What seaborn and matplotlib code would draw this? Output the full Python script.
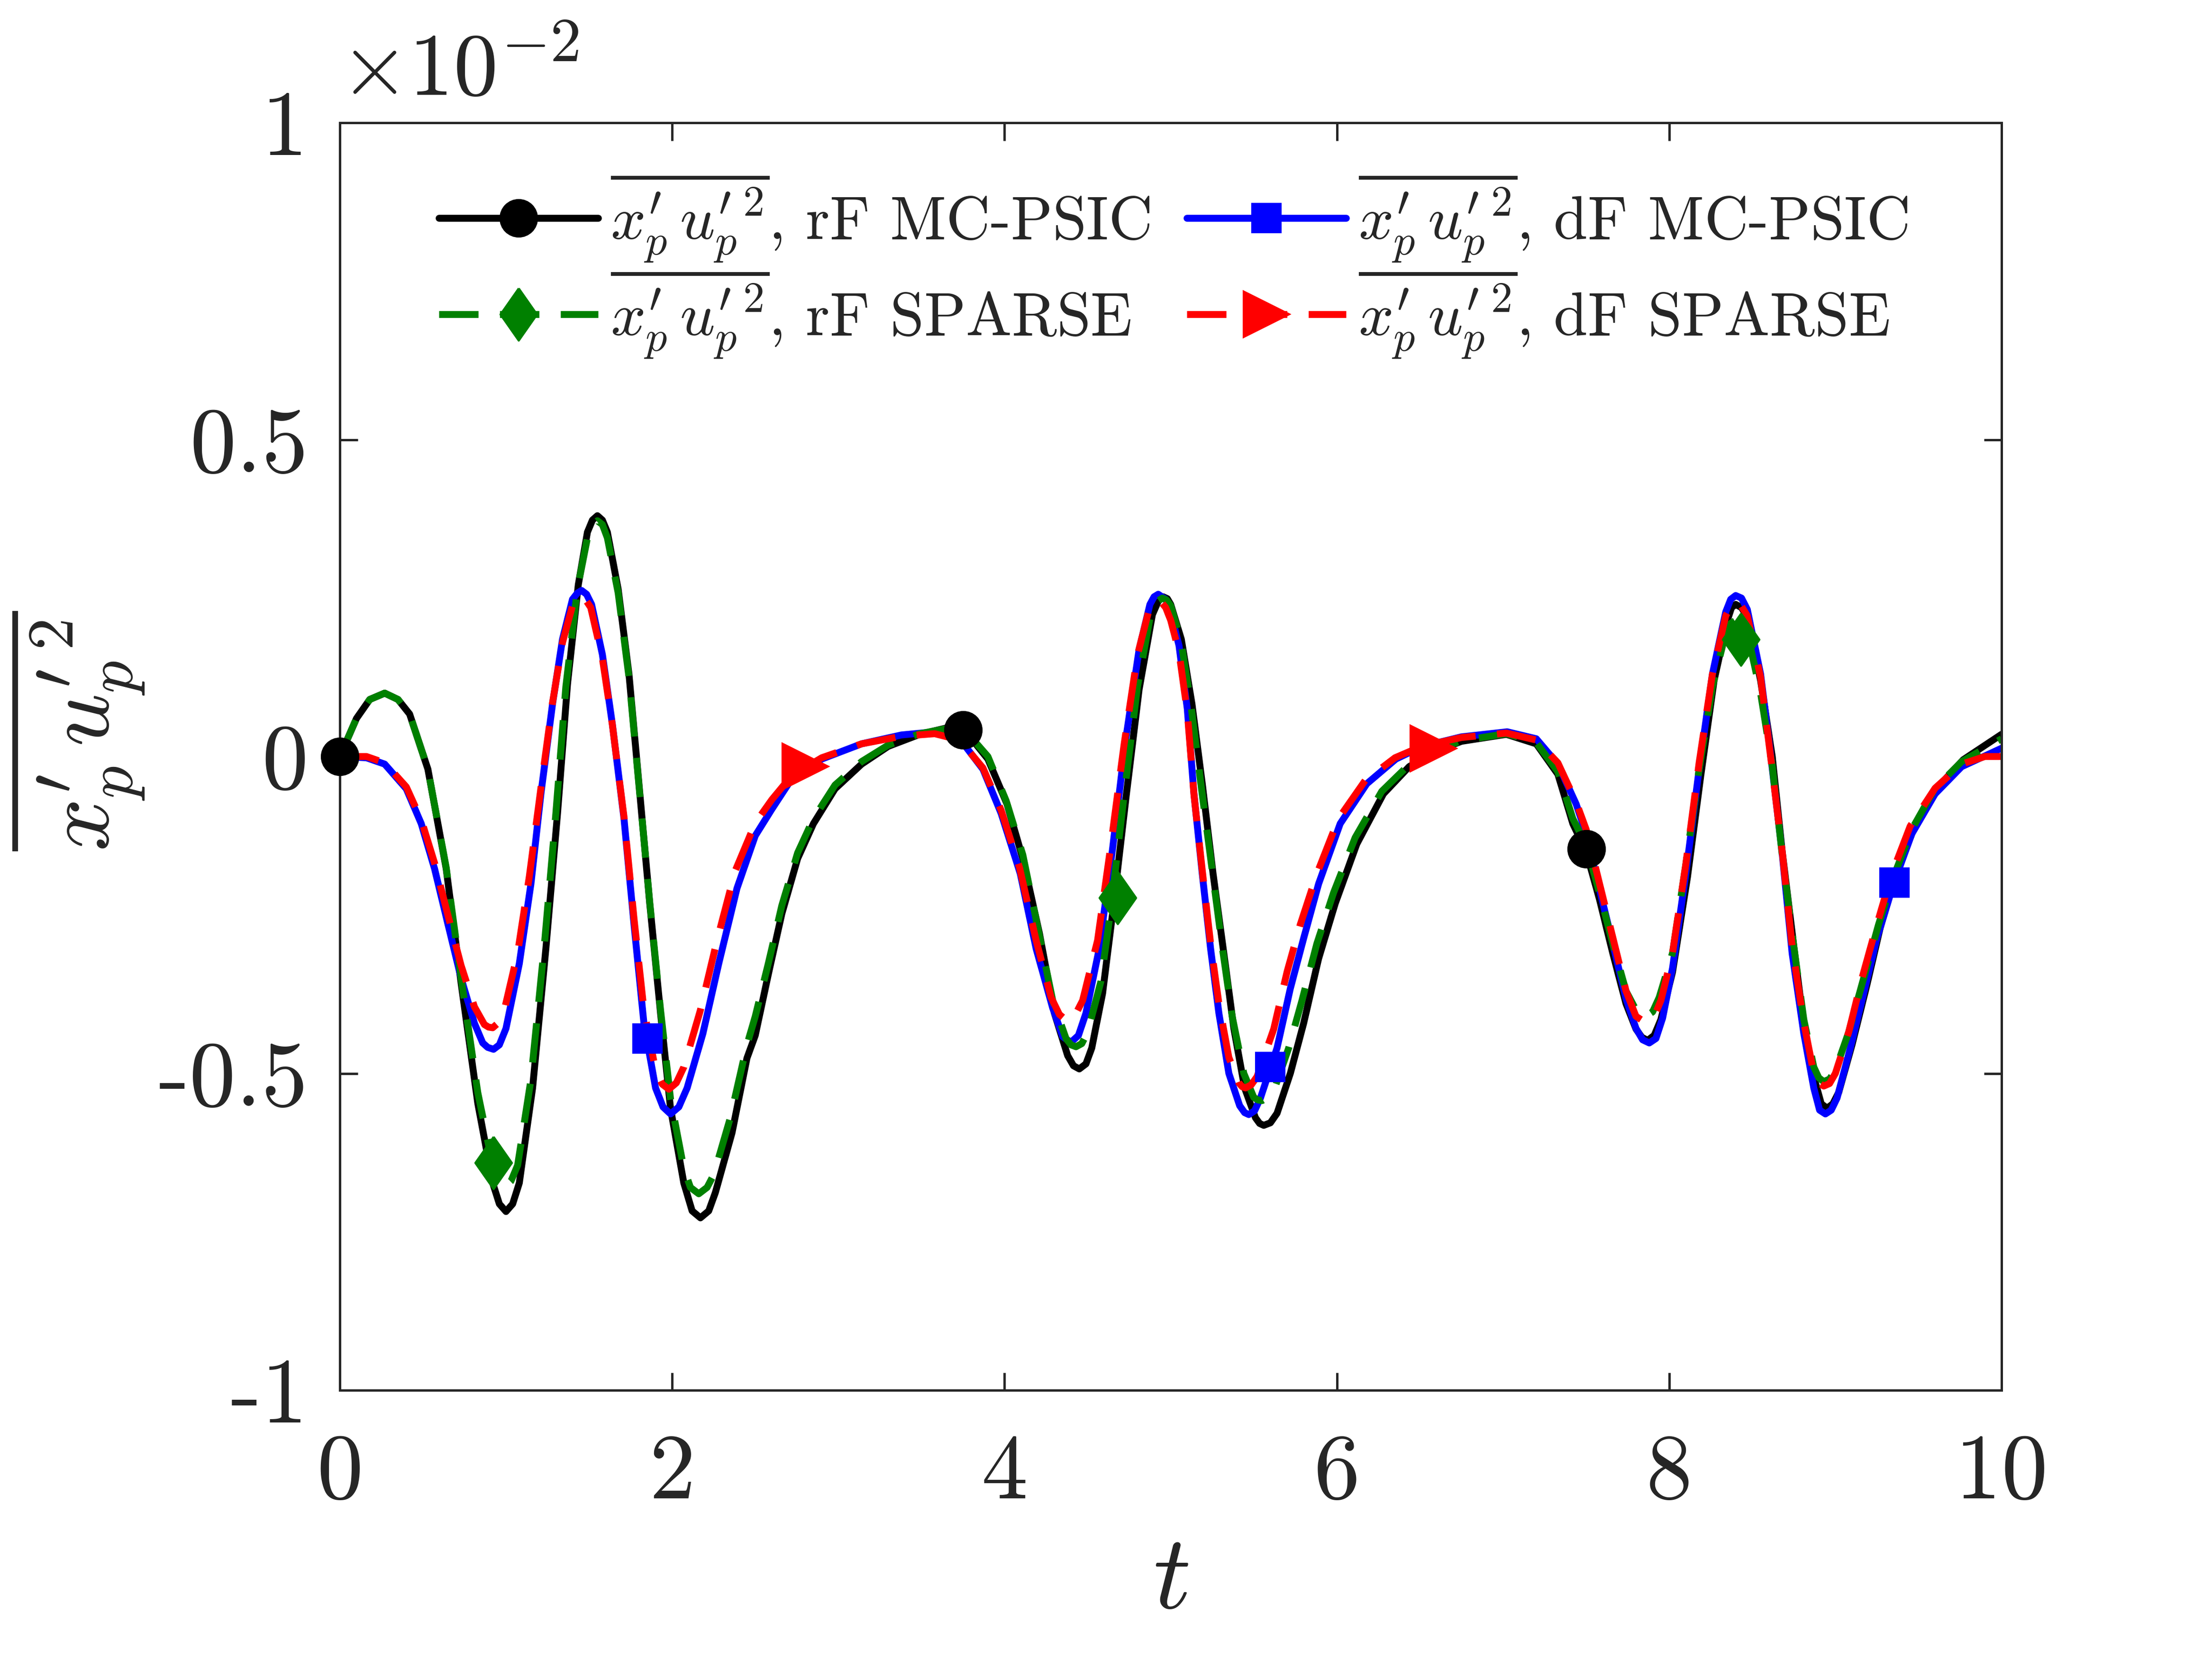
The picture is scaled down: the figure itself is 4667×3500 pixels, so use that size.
import numpy as np
import pandas as pd
import matplotlib
matplotlib.use("Agg")
import matplotlib.pyplot as plt
from matplotlib.lines import Line2D
import seaborn as sns

# curve samples (values in units of 1e-2)
t_rf_mc = [0, 0.10, 0.27, 0.42, 0.53, 0.64, 0.73, 0.83, 0.92, 1.00, 1.08, 1.16, 1.24, 1.31, 1.37,
           1.435, 1.49, 1.55, 1.61, 1.675, 1.74, 1.80, 1.865, 1.93, 1.99, 2.07, 2.17, 2.26, 2.36,
           2.45, 2.50, 2.58, 2.66, 2.755, 2.85, 2.98, 3.14, 3.30, 3.49, 3.65, 3.78, 3.90, 4.015,
           4.11, 4.21, 4.30, 4.38, 4.45, 4.525, 4.59, 4.65, 4.73, 4.81, 4.89, 4.955, 5.00, 5.064,
           5.128, 5.19, 5.255, 5.32, 5.38, 5.445, 5.51, 5.56, 5.64, 5.72, 5.80, 5.89, 5.99, 6.12,
           6.28, 6.435, 6.59, 6.75, 7.02, 7.20, 7.33, 7.42, 7.50, 7.58, 7.66, 7.74, 7.80, 7.87,
           7.95, 8.02, 8.11, 8.19, 8.27, 8.35, 8.40, 8.47, 8.55, 8.62, 8.68, 8.75, 8.81, 8.88,
           8.95, 9.02, 9.10, 9.19, 9.27, 9.36, 9.47, 9.61, 9.77, 10.0,
           0.18, 0.35, 0.96, 1.04, 1.52, 1.58, 2.12, 2.22, 4.415, 4.49, 4.925, 4.98, 5.535,
           5.60, 7.835, 7.91, 8.375, 8.435, 8.915, 8.985]
v_rf_mc = [0, 0.06, 0.10, 0.067, -0.02, -0.177, -0.358, -0.547, -0.673, -0.718, -0.673, -0.523,
           -0.303, -0.09, 0.114, 0.271, 0.354, 0.38, 0.354, 0.264, 0.13, -0.043, -0.232, -0.405,
           -0.555, -0.673, -0.728, -0.688, -0.594, -0.476, -0.44, -0.342, -0.248, -0.161, -0.106,
           -0.051, -0.012, 0.016, 0.035, 0.045, 0.035, -0.004, -0.075, -0.161, -0.279, -0.405,
           -0.472, -0.493, -0.46, -0.374, -0.248, -0.067, 0.106, 0.224, 0.252, 0.24, 0.185, 0.083,
           -0.043, -0.185, -0.311, -0.429, -0.523, -0.57, -0.582, -0.563, -0.50, -0.421, -0.319,
           -0.232, -0.138, -0.059, -0.016, 0.008, 0.024, 0.035, 0.02, -0.028, -0.106, -0.15,
           -0.225, -0.31, -0.39, -0.43, -0.448, -0.415, -0.34, -0.19, -0.03, 0.12, 0.215, 0.24,
           0.22, 0.12, 0.0, -0.15, -0.30, -0.425, -0.515, -0.555, -0.53, -0.455, -0.36, -0.27,
           -0.19, -0.115, -0.05, -0.005, 0.035,
           0.09, 0.09, -0.706, -0.706, 0.373, 0.373, -0.717, -0.717, -0.488, -0.485, 0.245,
           0.249, -0.579, -0.578, -0.443, -0.44, 0.235, 0.235, -0.548, -0.548]

t_df_mc = [0, 0.16, 0.27, 0.40, 0.49, 0.57, 0.65, 0.73, 0.81, 0.86, 0.925, 1.00, 1.08, 1.15, 1.21,
           1.28, 1.34, 1.40, 1.455, 1.515, 1.58, 1.64, 1.71, 1.77, 1.83, 1.90, 1.99, 2.09, 2.185,
           2.28, 2.39, 2.50, 2.60, 2.72, 2.90, 3.14, 3.38, 3.58, 3.73, 3.87, 3.98, 4.095, 4.19,
           4.29, 4.40, 4.49, 4.57, 4.65, 4.73, 4.81, 4.875, 4.925, 4.97, 5.00, 5.05, 5.10, 5.14,
           5.19, 5.24, 5.29, 5.35, 5.415, 5.47, 5.54, 5.64, 5.72, 5.80, 5.89, 6.02, 6.18, 6.355,
           6.515, 6.75, 7.025, 7.20, 7.33, 7.44, 7.50, 7.58, 7.66, 7.74, 7.80, 7.88, 7.96, 8.02,
           8.10, 8.18, 8.26, 8.34, 8.40, 8.47, 8.55, 8.61, 8.68, 8.74, 8.81, 8.87, 8.94, 9.01,
           9.09, 9.17, 9.25, 9.35, 9.46, 9.60, 9.76, 10.0,
           0.89, 0.96, 1.43, 1.485, 1.945, 2.04, 4.35, 4.445, 4.90, 5.445, 5.505, 7.84, 7.92,
           8.37, 8.435, 8.905, 8.975]
v_df_mc = [0, -0.002, -0.012, -0.051, -0.106, -0.177, -0.264, -0.35, -0.421, -0.452, -0.462,
           -0.429, -0.327, -0.201, -0.059, 0.083, 0.185, 0.248, 0.262, 0.24, 0.161, 0.051, -0.098,
           -0.264, -0.421, -0.523, -0.564, -0.523, -0.437, -0.327, -0.208, -0.125, -0.083, -0.035,
           -0.004, 0.02, 0.034, 0.039, 0.028, -0.02, -0.09, -0.185, -0.303, -0.397, -0.451,
           -0.405, -0.303, -0.146, 0.028, 0.169, 0.24, 0.256, 0.248, 0.228, 0.175, 0.075, -0.059,
           -0.185, -0.303, -0.405, -0.50, -0.551, -0.565, -0.539, -0.46, -0.366, -0.287, -0.201,
           -0.106, -0.043, -0.004, 0.016, 0.031, 0.039, 0.028, -0.012, -0.075, -0.122, -0.209,
           -0.295, -0.382, -0.429, -0.452, -0.413, -0.334, -0.185, -0.02, 0.13, 0.228, 0.254,
           0.232, 0.13, 0.004, -0.153, -0.311, -0.437, -0.523, -0.564, -0.539, -0.46, -0.374,
           -0.287, -0.201, -0.122, -0.059, -0.016, 0.013,
           -0.459, -0.455, 0.258, 0.256, -0.553, -0.553, -0.442, -0.44, 0.252, -0.562, -0.559,
           -0.447, -0.445, 0.248, 0.25, -0.558, -0.558]

t_rf_sp = [0, 0.10, 0.27, 0.42, 0.53, 0.64, 0.73, 0.83, 0.92, 0.99, 1.07, 1.15, 1.23, 1.30, 1.36,
           1.43, 1.49, 1.55, 1.61, 1.675, 1.74, 1.80, 1.865, 1.93, 1.99, 2.07, 2.16, 2.25, 2.35,
           2.45, 2.50, 2.58, 2.66, 2.755, 2.85, 2.98, 3.14, 3.30, 3.49, 3.65, 3.78, 3.90, 4.01,
           4.11, 4.20, 4.29, 4.37, 4.43, 4.50, 4.58, 4.64, 4.72, 4.80, 4.88, 4.95, 5.00, 5.06,
           5.12, 5.18, 5.25, 5.31, 5.37, 5.44, 5.50, 5.55, 5.63, 5.71, 5.79, 5.88, 5.98, 6.11,
           6.27, 6.43, 6.59, 6.75, 7.02, 7.20, 7.33, 7.42, 7.50, 7.58, 7.66, 7.74, 7.80, 7.86,
           7.94, 8.02, 8.10, 8.18, 8.26, 8.34, 8.40, 8.47, 8.55, 8.62, 8.68, 8.75, 8.81, 8.87,
           8.93, 9.00, 9.08, 9.17, 9.26, 9.35, 9.46, 9.60, 9.76, 10.0,
           0.18, 0.35, 0.955, 1.03, 1.52, 1.58, 2.11, 2.21, 4.40, 4.465, 4.915, 4.975, 5.525,
           5.59, 7.83, 7.90, 8.37, 8.435, 8.90, 8.965]
v_rf_sp = [0, 0.06, 0.10, 0.067, -0.02, -0.175, -0.35, -0.53, -0.645, -0.68, -0.645, -0.51,
           -0.30, -0.09, 0.11, 0.265, 0.345, 0.372, 0.345, 0.258, 0.125, -0.045, -0.23, -0.40,
           -0.54, -0.65, -0.69, -0.66, -0.57, -0.455, -0.41, -0.325, -0.235, -0.152, -0.098,
           -0.045, -0.008, 0.018, 0.036, 0.044, 0.036, 0.0, -0.07, -0.155, -0.27, -0.385, -0.445,
           -0.458, -0.435, -0.355, -0.24, -0.06, 0.11, 0.225, 0.25, 0.238, 0.185, 0.085, -0.04,
           -0.18, -0.30, -0.41, -0.50, -0.538, -0.543, -0.52, -0.46, -0.385, -0.295, -0.215,
           -0.128, -0.055, -0.014, 0.009, 0.025, 0.036, 0.022, -0.024, -0.098, -0.14, -0.215,
           -0.295, -0.37, -0.40, -0.41, -0.38, -0.31, -0.17, -0.02, 0.11, 0.195, 0.215, 0.195,
           0.10, -0.015, -0.155, -0.30, -0.415, -0.49, -0.513, -0.495, -0.435, -0.35, -0.265,
           -0.19, -0.115, -0.05, -0.008, 0.028,
           0.09, 0.09, -0.672, -0.67, 0.366, 0.366, -0.68, -0.68, -0.455, -0.453, 0.244,
           0.247, -0.542, -0.537, -0.407, -0.403, 0.21, 0.21, -0.507, -0.509]

t_df_sp = [0, 0.16, 0.27, 0.40, 0.49, 0.57, 0.65, 0.73, 0.81, 0.87, 0.92, 0.99, 1.07, 1.14, 1.21,
           1.28, 1.34, 1.40, 1.45, 1.51, 1.58, 1.64, 1.71, 1.77, 1.83, 1.90, 1.98, 2.07, 2.17,
           2.27, 2.38, 2.50, 2.60, 2.72, 2.90, 3.14, 3.38, 3.58, 3.73, 3.87, 3.98, 4.09, 4.19,
           4.28, 4.38, 4.47, 4.56, 4.64, 4.72, 4.80, 4.87, 4.92, 4.97, 5.00, 5.05, 5.10, 5.14,
           5.19, 5.24, 5.29, 5.35, 5.41, 5.45, 5.52, 5.62, 5.70, 5.78, 5.88, 6.01, 6.17, 6.35,
           6.51, 6.75, 7.02, 7.20, 7.33, 7.44, 7.50, 7.58, 7.66, 7.74, 7.80, 7.87, 7.95, 8.02,
           8.10, 8.18, 8.26, 8.34, 8.40, 8.47, 8.55, 8.61, 8.68, 8.74, 8.81, 8.87, 8.93, 9.00,
           9.08, 9.16, 9.25, 9.34, 9.45, 9.60, 9.76, 9.90, 10.0,
           0.895, 0.955, 1.425, 1.48, 1.94, 2.025, 4.33, 4.425, 4.895, 4.945, 5.43, 5.485,
           7.835, 7.91, 8.37, 8.435, 8.90, 8.965]
v_df_sp = [0, 0.0, -0.01, -0.048, -0.10, -0.168, -0.25, -0.33, -0.395, -0.423, -0.428, -0.40,
           -0.31, -0.19, -0.05, 0.085, 0.18, 0.238, 0.252, 0.235, 0.155, 0.05, -0.095, -0.255,
           -0.40, -0.495, -0.525, -0.49, -0.40, -0.29, -0.18, -0.105, -0.068, -0.03, -0.002, 0.02,
           0.032, 0.036, 0.026, -0.018, -0.085, -0.175, -0.29, -0.38, -0.418, -0.385, -0.29,
           -0.14, 0.02, 0.16, 0.232, 0.245, 0.235, 0.215, 0.165, 0.07, -0.06, -0.18, -0.295,
           -0.39, -0.475, -0.515, -0.523, -0.505, -0.43, -0.34, -0.265, -0.185, -0.098, -0.038,
           -0.002, 0.016, 0.03, 0.037, 0.026, -0.01, -0.072, -0.115, -0.2, -0.285, -0.37, -0.41,
           -0.418, -0.385, -0.31, -0.17, -0.01, 0.13, 0.222, 0.243, 0.222, 0.125, 0.0, -0.15,
           -0.30, -0.42, -0.50, -0.52, -0.50, -0.435, -0.35, -0.265, -0.185, -0.11, -0.05, -0.012,
           0.0, 0.0,
           -0.427, -0.42, 0.248, 0.247, -0.517, -0.515, -0.407, -0.408, 0.241, 0.243, -0.521,
           -0.518, -0.416, -0.41, 0.237, 0.237, -0.515, -0.516]

# sparse marker positions
mk_t_rf_mc = [0, 3.75, 7.5]
mk_v_rf_mc = [0, 0.042, -0.146]
mk_t_df_mc = [1.85, 5.60, 9.355]
mk_v_df_mc = [-0.445, -0.49, -0.199]
mk_t_rf_sp = [0.925, 4.68, 8.43]
mk_v_rf_sp = [-0.641, -0.223, 0.185]
mk_t_df_sp = [2.80, 6.58]
mk_v_df_sp = [-0.016, 0.013]

xticks = [0, 2, 4, 6, 8, 10]
yticks = [-1, -0.5, 0, 0.5, 1]
ytick_labels = ["-1", "-0.5", "0", "0.5", "1"]

q = r"$\overline{x_p^{\prime}\,{u_p^{\prime}}^{2}}$"
names = ["rF MC-PSIC", "dF MC-PSIC", "rF SPARSE", "dF SPARSE"]
colors = {"rF MC-PSIC": "#000000", "dF MC-PSIC": "#0000ff",
          "rF SPARSE": "#008000", "dF SPARSE": "#ff0000"}
dash = (5.7, 3.1)
dashes = {"rF MC-PSIC": "", "dF MC-PSIC": "", "rF SPARSE": dash, "dF SPARSE": dash}
diamond = [(0, 1), (0.7, 0), (0, -1), (-0.7, 0), (0, 1)]
markers = {"rF MC-PSIC": ("o", 18.5), "dF MC-PSIC": ("s", 14.5),
           "rF SPARSE": (diamond, 26.5), "dF SPARSE": (">", 23)}

frames = []
for name, tt, vv in zip(names, [t_rf_mc, t_df_mc, t_rf_sp, t_df_sp],
                        [v_rf_mc, v_df_mc, v_rf_sp, v_df_sp]):
    frames.append(pd.DataFrame({"t": tt, "v": vv, "case": name}).sort_values("t"))
df = pd.concat(frames, ignore_index=True)

sns.set_style("ticks")
plt.rcParams["font.family"] = ["serif"]
plt.rcParams["font.serif"] = ["cmr10", "DejaVu Serif"]
plt.rcParams["mathtext.fontset"] = "cm"
plt.rcParams["axes.formatter.use_mathtext"] = True

ink = "#262626"
lw = 3.5

fig = plt.figure(figsize=(4667 / 300, 3500 / 300), dpi=300)
ax = fig.add_axes([717 / 4667, 1 - 2933 / 3500, 3506 / 4667, 2674 / 3500])

sns.lineplot(data=df, x="t", y="v", hue="case", style="case", hue_order=names,
             style_order=names, palette=colors, dashes=dashes, estimator=None,
             sort=False, linewidth=lw, legend=False, ax=ax)
for line in ax.lines:
    line.set_linewidth(lw)
    line.set_solid_joinstyle("round")
    line.set_dash_joinstyle("round")
for line, name in zip(ax.lines, names):
    if dashes[name] != "":
        line.set_linestyle((0, dash))

mk = {"rF MC-PSIC": (mk_t_rf_mc, mk_v_rf_mc), "dF MC-PSIC": (mk_t_df_mc, mk_v_df_mc),
      "rF SPARSE": (mk_t_rf_sp, mk_v_rf_sp), "dF SPARSE": (mk_t_df_sp, mk_v_df_sp)}
for name in names:
    m, ms = markers[name]
    ax.plot(mk[name][0], mk[name][1], ls="none", marker=m, ms=ms,
            color=colors[name], mec=colors[name], zorder=5, clip_on=False)

ax.set_xlim(0, 10)
ax.set_ylim(-1, 1)
ax.set_xticks(xticks)
ax.set_xticklabels([str(x) for x in xticks])
ax.set_yticks(yticks)
ax.set_yticklabels(ytick_labels)
ax.tick_params(direction="in", length=9, width=1.2, colors=ink, labelsize=47,
               top=True, right=True, pad=16)
ax.tick_params(axis="x", pad=22)
for s in ax.spines.values():
    s.set_visible(True)
    s.set_linewidth(1.2)
    s.set_color(ink)

ax.set_xlabel(r"$t$", fontsize=53, color=ink, labelpad=10)
ax.set_ylabel(q, fontsize=47, color=ink)
ax.yaxis.set_label_coords(-0.116, 0.52)
ax.text(0.0, 1.008, r"$\times 10^{-2}$", transform=ax.transAxes, fontsize=45,
        color=ink, ha="left", va="bottom")

handles = []
for name in ["rF MC-PSIC", "rF SPARSE", "dF MC-PSIC", "dF SPARSE"]:
    m, ms = markers[name]
    ls = "-" if dashes[name] == "" else (0, dash)
    handles.append(Line2D([], [], color=colors[name], lw=lw, ls=ls, marker=m, ms=ms,
                          mec=colors[name], label=q + ", " + name))
ax.legend(handles=handles, ncol=2, frameon=False, loc="upper left",
          bbox_to_anchor=(0.045, 0.981), fontsize=31, handlelength=2.6,
          handletextpad=0.2, columnspacing=0.6, labelspacing=0.05, borderaxespad=0)

fig.savefig("out.png", dpi=300)
